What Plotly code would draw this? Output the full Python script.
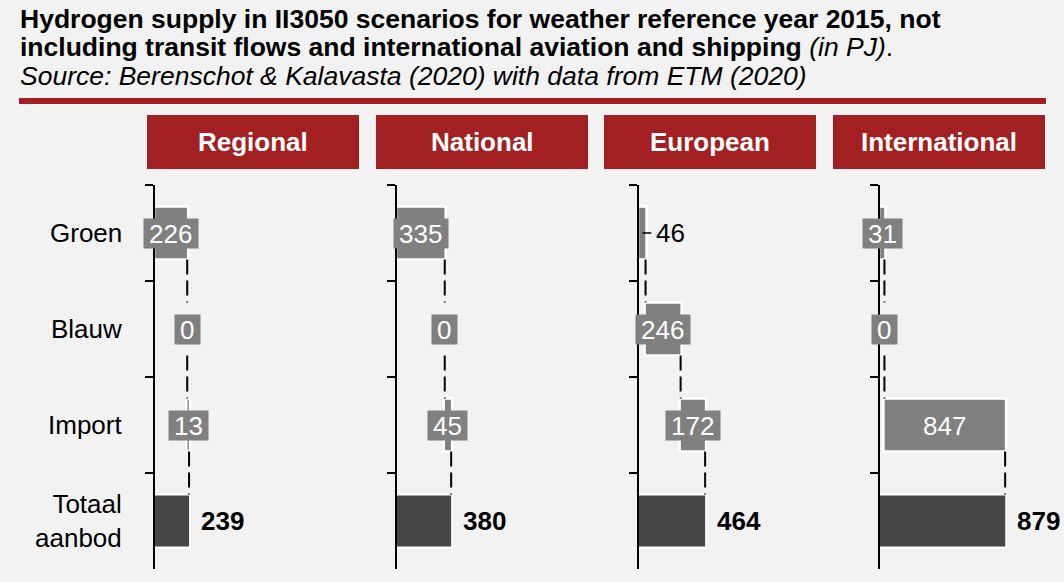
import plotly.graph_objects as go
from plotly.subplots import make_subplots

# Hydrogen supply per scenario (PJ)
scenarios = ["Regional", "National", "European", "International"]
categories = ["Groen", "Blauw", "Import", "Totaal aanbod"]
groen = [226, 335, 46, 31]
blauw = [0, 0, 246, 0]
import_ = [13, 45, 172, 847]
totaal = [239, 380, 464, 879]

title_line1 = "Hydrogen supply in II3050 scenarios for weather reference year 2015, not"
title_line2 = "including transit flows and international aviation and shipping"
title_unit = "(in PJ)"
source_line = "Source: Berenschot & Kalavasta (2020) with data from ETM (2020)"

# labels that sit outside their (too thin) bar with a leader line
outside_labels = {("European", "Groen")}

FONT = "Liberation Sans, Arial, sans-serif"
W, H = 1064, 582
BG = "#f2f2f2"
RED = "#a32022"
BAR = "#808080"
TOTAL = "#464646"

axis_left_px = [155, 397, 639, 880]
panel_w_px = 182
x_max = 1277
plot_top_px, plot_bottom_px = 185, 569
header_left_px = [147, 376, 604, 833]
header_w_px = 212
header_top_px, header_bottom_px = 115, 169
DIGIT_PX = 14.5  # digit advance at 26px


def px_x(p):
    return p / W


def px_y(p):
    return 1 - p / H


fig = make_subplots(rows=1, cols=4)

annotations = []
shapes = []

for i, name in enumerate(scenarios):
    vals = [groen[i], blauw[i], import_[i], totaal[i]]
    fig.add_trace(
        go.Waterfall(
            orientation="h",
            y=categories,
            x=vals,
            measure=["relative", "relative", "relative", "absolute"],
            increasing=dict(marker=dict(color=BAR, line=dict(color="white", width=2.5))),
            decreasing=dict(marker=dict(color=BAR, line=dict(color="white", width=2.5))),
            totals=dict(marker=dict(color=TOTAL, line=dict(color="white", width=2))),
            connector=dict(mode="between", line=dict(color="black", width=2, dash="15px,6px")),
            textinfo="none",
            hoverinfo="skip",
            showlegend=False,
        ),
        row=1, col=i + 1,
    )
    xa = "x" if i == 0 else f"x{i + 1}"
    ya = "y" if i == 0 else f"y{i + 1}"

    # value labels of the stacked components
    cum = 0
    for cat, v in zip(categories[:3], vals[:3]):
        mid = cum + v / 2
        txt = str(v)
        if (name, cat) in outside_labels:
            annotations.append(dict(
                x=mid, y=cat, xref=xa, yref=ya, text=txt,
                showarrow=True, arrowhead=0, arrowwidth=1.5, arrowcolor="black",
                ax=28, ay=0, borderpad=4, standoff=0,
                font=dict(family=FONT, size=26, color="black"),
            ))
        else:
            annotations.append(dict(
                x=mid, y=cat, xref=xa, yref=ya, text=txt, showarrow=False,
                bgcolor=BAR, borderpad=0,
                width=len(txt) * DIGIT_PX + 10, height=29,
                font=dict(family=FONT, size=26, color="white"),
            ))
        cum += v

    # total label
    annotations.append(dict(
        x=vals[3], y=categories[3], xref=xa, yref=ya, text=f"<b>{vals[3]}</b>",
        showarrow=False, xanchor="left", xshift=10,
        font=dict(family=FONT, size=26, color="black"),
    ))

    # scenario header
    shapes.append(dict(
        type="rect", xref="paper", yref="paper",
        x0=px_x(header_left_px[i]), x1=px_x(header_left_px[i] + header_w_px),
        y0=px_y(header_bottom_px), y1=px_y(header_top_px),
        fillcolor=RED, line=dict(width=0), layer="above",
    ))
    annotations.append(dict(
        x=px_x(header_left_px[i] + header_w_px / 2), y=px_y((header_top_px + header_bottom_px) / 2),
        xref="paper", yref="paper", text=f"<b>{name}</b>", showarrow=False,
        xanchor="center", yanchor="middle",
        font=dict(family=FONT, size=26, color="white"),
    ))

    fig.update_xaxes(
        domain=[px_x(axis_left_px[i]), px_x(axis_left_px[i] + panel_w_px)],
        range=[0, x_max], visible=False, row=1, col=i + 1,
    )
    fig.update_yaxes(
        domain=[px_y(plot_bottom_px), px_y(plot_top_px)],
        type="category", categoryorder="array", categoryarray=categories,
        range=[3.5, -0.5], showticklabels=False, tickson="boundaries",
        ticks="outside", ticklen=8, tickwidth=2, tickcolor="black",
        showline=True, linecolor="black", linewidth=2, showgrid=False,
        zeroline=False, row=1, col=i + 1,
    )

# category labels left of the first panel
for cat in categories:
    annotations.append(dict(
        x=px_x(124), y=cat, xref="paper", yref="y", text=cat.replace(" ", "<br>"),
        showarrow=False, xanchor="right", align="right",
        font=dict(family=FONT, size=26, color="black"),
    ))

# title block
TITLE_SIZE = 26.5
annotations += [
    dict(x=px_x(18), y=px_y(19), xref="paper", yref="paper", xanchor="left", yanchor="middle",
         text=f"<b>{title_line1}</b>", showarrow=False,
         font=dict(family=FONT, size=TITLE_SIZE, color="black")),
    dict(x=px_x(18), y=px_y(47), xref="paper", yref="paper", xanchor="left", yanchor="middle",
         text=f"<b>{title_line2}</b> <i>{title_unit}</i>.", showarrow=False,
         font=dict(family=FONT, size=TITLE_SIZE, color="black")),
    dict(x=px_x(18), y=px_y(76), xref="paper", yref="paper", xanchor="left", yanchor="middle",
         text=f"<i>{source_line}</i>", showarrow=False,
         font=dict(family=FONT, size=TITLE_SIZE, color="black")),
]
shapes.append(dict(
    type="line", xref="paper", yref="paper",
    x0=px_x(19), x1=px_x(1046), y0=px_y(101), y1=px_y(101),
    line=dict(color=RED, width=6),
))

fig.update_layout(
    width=W, height=H, margin=dict(l=0, r=0, t=0, b=0),
    paper_bgcolor=BG, plot_bgcolor=BG,
    waterfallgap=0.45,
    annotations=annotations, shapes=shapes,
    font=dict(family=FONT),
)

fig.write_html("out.html")
